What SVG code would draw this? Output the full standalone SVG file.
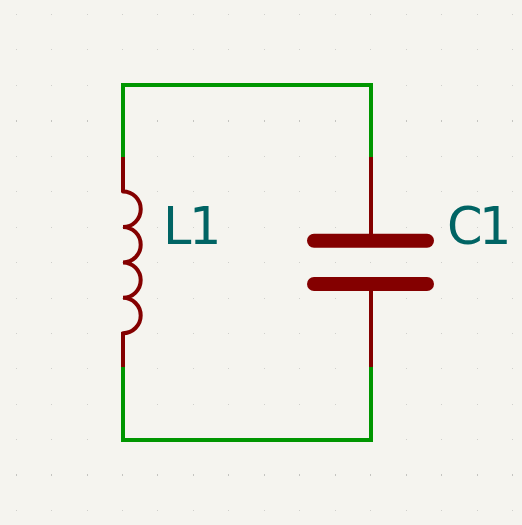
<svg xmlns="http://www.w3.org/2000/svg" xmlns:xlink="http://www.w3.org/1999/xlink" width="522" height="525" viewBox="0 0 522 525">
<style>
.wire{fill:none;stroke:#009600;stroke-width:4;stroke-linecap:square}
.pin{fill:none;stroke:#840000;stroke-width:4}
.body{fill:none;stroke:#840000;stroke-width:4;stroke-linecap:round}
.plate{fill:none;stroke:#840000;stroke-width:14;stroke-linecap:round}
.ref{font-family:"DejaVu Sans",sans-serif;font-size:51px;fill:#006464}
.dot{fill:#cfcfcb}
.maj{fill:#c4c4c0}
</style>
<defs>
<g id="row"><rect class="dot" x="16" y="0" width="1" height="1"/><rect class="dot" x="51" y="0" width="1" height="1"/><rect class="dot" x="87" y="0" width="1" height="1"/><rect class="dot" x="122" y="0" width="1" height="1"/><rect class="dot" x="157" y="0" width="1" height="1"/><rect class="dot" x="193" y="0" width="1" height="1"/><rect class="dot" x="228" y="0" width="1" height="1"/><rect class="dot" x="264" y="0" width="1" height="1"/><rect class="dot" x="299" y="0" width="1" height="1"/><rect class="dot" x="335" y="0" width="1" height="1"/><rect class="dot" x="370" y="0" width="1" height="1"/><rect class="dot" x="406" y="0" width="1" height="1"/><rect class="dot" x="441" y="0" width="1" height="1"/><rect class="dot" x="477" y="0" width="1" height="1"/><rect class="dot" x="512" y="0" width="1" height="1"/></g>
<g id="majrow"><rect class="maj" x="16" y="0" width="1" height="2"/><rect class="maj" x="51" y="0" width="1" height="2"/><rect class="maj" x="87" y="0" width="1" height="2"/><rect class="maj" x="122" y="0" width="1" height="2"/><rect class="maj" x="157" y="0" width="1" height="2"/><rect class="maj" x="193" y="0" width="1" height="2"/><rect class="maj" x="228" y="0" width="1" height="2"/><rect class="maj" x="264" y="0" width="1" height="2"/><rect class="maj" x="299" y="0" width="1" height="2"/><rect class="maj" x="335" y="0" width="1" height="2"/><rect class="maj" x="370" y="0" width="1" height="2"/><rect class="maj" x="406" y="0" width="1" height="2"/><rect class="maj" x="441" y="0" width="1" height="2"/><rect class="maj" x="477" y="0" width="1" height="2"/><rect class="maj" x="512" y="0" width="1" height="2"/></g>
</defs>
<rect width="522" height="525" fill="#f5f4ef"/>
<g id="grid">
<use xlink:href="#row" y="14"/><use xlink:href="#row" y="49"/><use xlink:href="#row" y="85"/><use xlink:href="#majrow" y="120"/><use xlink:href="#row" y="156"/><use xlink:href="#row" y="191"/><use xlink:href="#row" y="227"/><use xlink:href="#row" y="262"/><use xlink:href="#row" y="298"/><use xlink:href="#row" y="333"/><use xlink:href="#row" y="368"/><use xlink:href="#row" y="404"/><use xlink:href="#row" y="439"/><use xlink:href="#majrow" y="474"/><use xlink:href="#row" y="510"/>
</g>
<g id="connectors">
<path class="wire" d="M123 157V85H371V157"/>
<path class="wire" d="M123 367V440H371V367"/>
</g>
<g id="L1">
<path class="pin" d="M123 157V192"/>
<path class="pin" d="M123 332V367"/>
<path class="body" d="M123 191.500A17.700 17.700 0 0 1 123 227A17.700 17.700 0 0 1 123 262.400A17.700 17.700 0 0 1 123 297.800A17.700 17.700 0 0 1 123 333.200"/>
<text class="ref" x="163 189" y="244">L1</text>
</g>
<g id="C1">
<path class="pin" d="M371 157V240"/>
<path class="pin" d="M371 284V367"/>
<path class="plate" d="M314 240.700H427"/>
<path class="plate" d="M314 284H427"/>
<text class="ref" x="447 479" y="244">C1</text>
</g>
</svg>
